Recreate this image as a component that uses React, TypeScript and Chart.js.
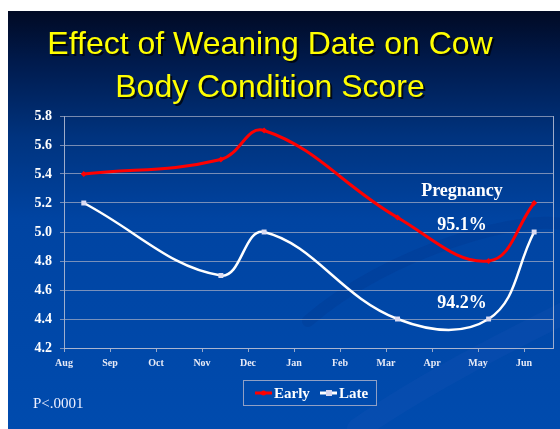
import React, { useEffect, useRef } from "react";
import { Chart, registerables } from "chart.js";

Chart.register(...registerables);

const titleLines = ["Effect of Weaning Date on Cow", "Body Condition Score"];
const monthLabels = ["Aug", "Sep", "Oct", "Nov", "Dec", "Jan", "Feb", "Mar", "Apr", "May", "Jun"];
// sample dates expressed in months after 1 Aug
const sampleMonths = [0.43, 3.41, 4.35, 7.25, 9.23, 10.22];
const earlyBCS = [5.4, 5.5, 5.7, 5.1, 4.8, 5.2];
const lateBCS = [5.2, 4.7, 5.0, 4.4, 4.4, 5.0];
const seriesNames = ["Early", "Late"];
const pregnancyLabel = "Pregnancy";
const pregnancyRates = ["95.1%", "94.2%"];
const pValueText = "P<.0001";

const SERIF = "'Liberation Serif', 'Times New Roman', serif";
const SANS = "'Liberation Sans', Arial, sans-serif";

const decorPlugin = {
  id: "decor",
  beforeDraw(chart: any) {
    const { ctx, width, height } = chart;
    ctx.save();
    const g = ctx.createLinearGradient(0, 0, 0, height);
    g.addColorStop(0, "#010a24");
    g.addColorStop(0.12, "#001a4c");
    g.addColorStop(0.3, "#00337e");
    g.addColorStop(0.5, "#0044a2");
    g.addColorStop(1, "#004bae");
    ctx.fillStyle = g;
    ctx.fillRect(0, 0, width, height);
    // subtle swooshes
    ctx.lineCap = "round";
    ctx.strokeStyle = "rgba(0,30,110,0.12)";
    ctx.lineWidth = 12;
    ctx.beginPath();
    ctx.moveTo(300, 310);
    ctx.bezierCurveTo(380, 240, 520, 200, 560, 215);
    ctx.stroke();
    ctx.strokeStyle = "rgba(80,120,210,0.07)";
    ctx.lineWidth = 22;
    ctx.beginPath();
    ctx.moveTo(350, 418);
    ctx.bezierCurveTo(420, 370, 500, 330, 560, 300);
    ctx.stroke();
    // title
    ctx.font = `32px ${SANS}`;
    ctx.textAlign = "center";
    ctx.textBaseline = "alphabetic";
    titleLines.forEach((t, i) => {
      const y = 43 + i * 43;
      ctx.fillStyle = "rgba(0,0,0,0.75)";
      ctx.fillText(t, 264, y + 2);
      ctx.fillStyle = "#ffff00";
      ctx.fillText(t, 262, y);
    });
    ctx.restore();
  },
  afterDraw(chart: any) {
    const { ctx, chartArea } = chart;
    ctx.save();
    // right border of plot
    ctx.strokeStyle = "rgba(175,185,210,0.9)";
    ctx.lineWidth = 1;
    ctx.beginPath();
    ctx.moveTo(chartArea.right + 0.5, chartArea.top);
    ctx.lineTo(chartArea.right + 0.5, chartArea.bottom);
    ctx.stroke();
    // annotations
    ctx.fillStyle = "#ffffff";
    ctx.textAlign = "center";
    ctx.font = `bold 18px ${SERIF}`;
    ctx.fillText(pregnancyLabel, 454, 185);
    ctx.fillText(pregnancyRates[0], 454, 219);
    ctx.fillText(pregnancyRates[1], 454, 297);
    // p value
    ctx.textAlign = "left";
    ctx.font = `15px ${SERIF}`;
    ctx.fillStyle = "#eef0ff";
    ctx.fillText(pValueText, 25, 397);
    // legend
    const bx = 235, by = 369, bw = 133, bh = 25;
    ctx.strokeStyle = "rgba(160,170,200,0.9)";
    ctx.strokeRect(bx + 0.5, by + 0.5, bw, bh);
    const cy = by + 13;
    const items = [
      { x: 247, color: "#ff0000", text: seriesNames[0], marker: "#ff0000", sq: false },
      { x: 312, color: "#ffffff", text: seriesNames[1], marker: "#d8d8f0", sq: true },
    ];
    ctx.font = `bold 15px ${SERIF}`;
    ctx.textBaseline = "middle";
    items.forEach((it) => {
      ctx.strokeStyle = it.color;
      ctx.lineWidth = 3;
      ctx.beginPath();
      ctx.moveTo(it.x, cy);
      ctx.lineTo(it.x + 17, cy);
      ctx.stroke();
      ctx.fillStyle = it.marker;
      if (it.sq) ctx.fillRect(it.x + 6, cy - 3, 6, 6);
      else {
        ctx.beginPath();
        ctx.arc(it.x + 8.5, cy, 2.5, 0, Math.PI * 2);
        ctx.fill();
      }
      ctx.fillStyle = "#ffffff";
      ctx.fillText(it.text, it.x + 19, cy + 1);
    });
    ctx.restore();
  },
};

export default function App() {
  const ref = useRef<HTMLCanvasElement | null>(null);
  useEffect(() => {
    if (!ref.current) return;
    const chart = new Chart(ref.current, {
      type: "scatter",
      data: {
        datasets: [
          {
            label: seriesNames[0],
            data: sampleMonths.map((x, i) => ({ x, y: earlyBCS[i] })),
            showLine: true,
            borderColor: "#ff0000",
            borderWidth: 3,
            tension: 0.4,
            pointStyle: "rectRot",
            pointRadius: 3,
            pointBackgroundColor: "#ff0000",
            pointBorderWidth: 0,
          },
          {
            label: seriesNames[1],
            data: sampleMonths.map((x, i) => ({ x, y: lateBCS[i] })),
            showLine: true,
            borderColor: "#ffffff",
            borderWidth: 2.5,
            tension: 0.4,
            pointStyle: "rect",
            pointRadius: 3.5,
            pointBackgroundColor: "#dcdcf2",
            pointBorderWidth: 0,
          },
        ],
      },
      options: {
        animation: false,
        responsive: false,
        maintainAspectRatio: false,
        layout: { padding: { top: 105, right: 7, left: 0, bottom: 0 } },
        plugins: { legend: { display: false }, tooltip: { enabled: false }, title: { display: false } },
        scales: {
          x: {
            type: "linear",
            min: 0,
            max: 10.63,
            afterBuildTicks: (s: any) => {
              s.ticks = monthLabels.map((_, i) => ({ value: i }));
            },
            afterFit: (s: any) => {
              s.height = 81;
            },
            ticks: {
              callback: (v: any) => monthLabels[Math.round(v)] ?? "",
              color: "#e6eaf6",
              font: { family: SERIF, size: 10, weight: "bold" },
              padding: 5,
              maxRotation: 0,
              autoSkip: false,
            },
            grid: { drawOnChartArea: false, drawTicks: true, tickLength: 4, color: "rgba(170,180,205,0.9)" },
            border: { color: "rgba(175,185,210,0.9)" },
          },
          y: {
            min: 4.2,
            max: 5.8,
            afterFit: (s: any) => {
              s.width = 56;
            },
            ticks: {
              stepSize: 0.2,
              callback: (v: any) => Number(v).toFixed(1),
              color: "#ffffff",
              font: { family: SERIF, size: 14, weight: "bold" },
              padding: 8,
            },
            grid: { color: "rgba(160,170,195,0.75)", tickLength: 4, lineWidth: 1 },
            border: { color: "rgba(175,185,210,0.9)" },
          },
        },
      },
      plugins: [decorPlugin],
    });
    return () => chart.destroy();
  }, []);
  return (
    <div style={{ position: "fixed", left: 8, top: 11, width: 552, height: 418 }}>
      <canvas ref={ref} width={552} height={418} style={{ display: "block", width: 552, height: 418 }} />
    </div>
  );
}
